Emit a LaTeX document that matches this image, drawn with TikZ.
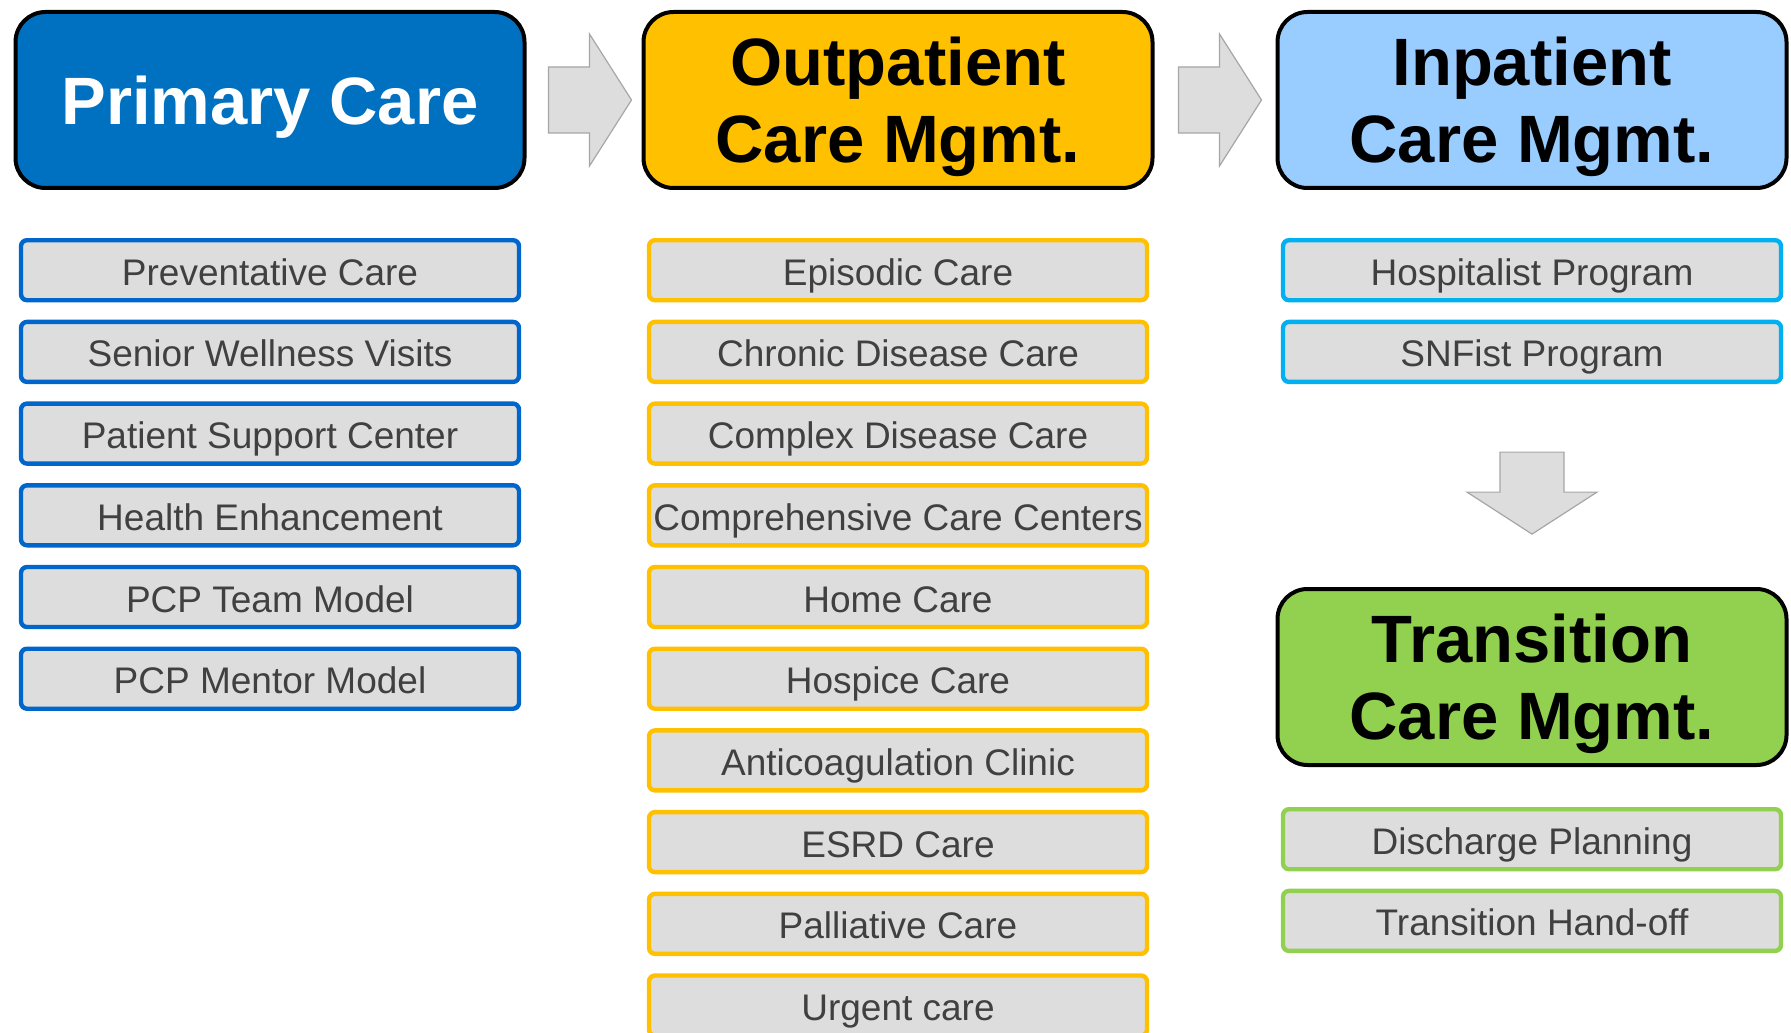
\documentclass[tikz,border=0pt]{standalone}
\usepackage{fontspec}
\setmainfont{Liberation Sans}
\usetikzlibrary{positioning}

\definecolor{primblue}{HTML}{0070C0}
\definecolor{outorange}{HTML}{FFC000}
\definecolor{inpblue}{HTML}{99CCFF}
\definecolor{transgreen}{HTML}{92D050}
\definecolor{primedge}{HTML}{0066CC}
\definecolor{inpedge}{HTML}{00B0F0}
\definecolor{itemgray}{HTML}{DDDDDD}
\definecolor{itemtext}{HTML}{404040}
\definecolor{arrowgray}{HTML}{DDDDDD}
\definecolor{arrowedge}{HTML}{A6A6A6}

\begin{document}
\begin{tikzpicture}[x=0.5pt,y=-0.5pt]

    \tikzstyle{carehead}=[draw=black,line width=2pt,rounded corners=15pt,minimum width=254.5pt,minimum height=88pt,align=center,text depth=0pt,font=\fontsize{33.5}{38.5}\selectfont\bfseries]
    \tikzstyle{careitem}=[fill=itemgray,line width=2.2pt,rounded corners=3pt,inner xsep=1pt,minimum width=249pt,minimum height=30pt,text height=15pt,text depth=0pt,text=itemtext,font=\fontsize{18.5}{22}\selectfont]
    \tikzstyle{blockarrow}=[fill=arrowgray,draw=arrowedge,line width=0.6pt]

    \useasboundingbox (0,0) rectangle (1791,1032);
    \clip (0,0) rectangle (1791,1032);

\node (prim) [carehead,fill=primblue,text=white] at (270,100) {Primary Care};
\node (out) [carehead,fill=outorange] at (898,100) {Outpatient\\Care Mgmt.};
\node (inp) [carehead,fill=inpblue] at (1532,100) {Inpatient\\Care Mgmt.};
\node (trans) [carehead,fill=transgreen] at (1532,677) {Transition\\Care Mgmt.};

% primary care
\node (prim1) [careitem,draw=primedge,below=24pt of prim] {Preventative Care};
\node (prim2) [careitem,draw=primedge,below=8.65pt of prim1] {Senior Wellness Visits};
\node (prim3) [careitem,draw=primedge,below=8.65pt of prim2] {Patient Support Center};
\node (prim4) [careitem,draw=primedge,below=8.65pt of prim3] {Health Enhancement};
\node (prim5) [careitem,draw=primedge,below=8.65pt of prim4] {PCP Team Model};
\node (prim6) [careitem,draw=primedge,below=8.65pt of prim5] {PCP Mentor Model};

% outpatient
\node (out1) [careitem,draw=outorange,below=24pt of out] {Episodic Care};
\node (out2) [careitem,draw=outorange,below=8.65pt of out1] {Chronic Disease Care};
\node (out3) [careitem,draw=outorange,below=8.65pt of out2] {Complex Disease Care};
\node (out4) [careitem,draw=outorange,below=8.65pt of out3] {Comprehensive Care Centers};
\node (out5) [careitem,draw=outorange,below=8.65pt of out4] {Home Care};
\node (out6) [careitem,draw=outorange,below=8.65pt of out5] {Hospice Care};
\node (out7) [careitem,draw=outorange,below=8.65pt of out6] {Anticoagulation Clinic};
\node (out8) [careitem,draw=outorange,below=8.65pt of out7] {ESRD Care};
\node (out9) [careitem,draw=outorange,below=8.65pt of out8] {Palliative Care};
\node (out10) [careitem,draw=outorange,below=8.65pt of out9] {Urgent care};

% inpatient
\node (inp1) [careitem,draw=inpedge,below=24pt of inp] {Hospitalist Program};
\node (inp2) [careitem,draw=inpedge,below=8.65pt of inp1] {SNFist Program};

% transition
\node (trans1) [careitem,draw=transgreen,below=20pt of trans] {Discharge Planning};
\node (trans2) [careitem,draw=transgreen,below=8.65pt of trans1] {Transition Hand-off};

% arrows between the columns
\draw[blockarrow] (prim.east) ++(22,-33) -- ++(41,0) -- ++(0,-33) -- ++(42,66) -- ++(-42,66) -- ++(0,-33) -- ++(-41,0) -- cycle;
\draw[blockarrow] (out.east) ++(24,-33) -- ++(41,0) -- ++(0,-33) -- ++(42,66) -- ++(-42,66) -- ++(0,-33) -- ++(-41,0) -- cycle;
\draw[blockarrow] (inp2.south) ++(-32,68) -- ++(64,0) -- ++(0,40) -- ++(33,0) -- ++(-65,42) -- ++(-65,-42) -- ++(33,0) -- cycle;

\end{tikzpicture}
\end{document}
